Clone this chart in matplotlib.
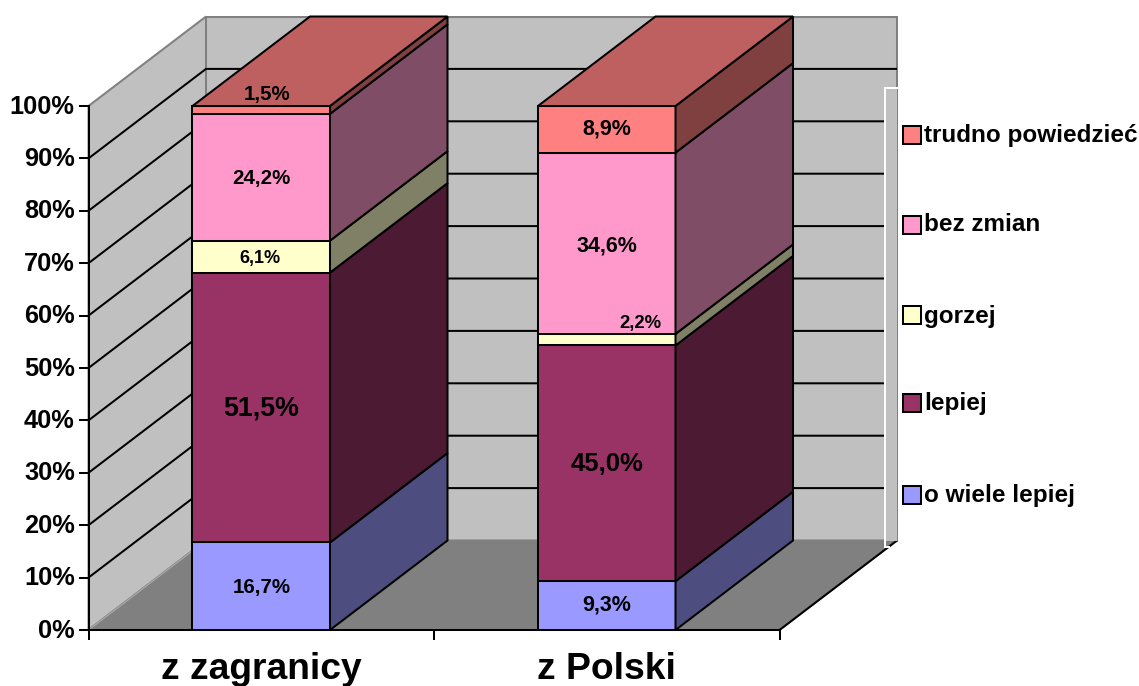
import matplotlib
matplotlib.use("Agg")
import matplotlib.pyplot as plt
from matplotlib.patches import Polygon, Rectangle
from matplotlib.transforms import ScaledTranslation

plt.rcParams['font.family'] = ['Liberation Sans', 'DejaVu Sans']

categories = ['z zagranicy', 'z Polski']
series_names = ['o wiele lepiej', 'lepiej', 'gorzej', 'bez zmian', 'trudno powiedzieć']
o_wiele_lepiej = [16.7, 9.3]
lepiej = [51.5, 45.0]
gorzej = [6.1, 2.2]
bez_zmian = [24.2, 34.6]
trudno = [1.5, 8.9]
series_values = [o_wiele_lepiej, lepiej, gorzej, bez_zmian, trudno]
y_ticks = [0, 10, 20, 30, 40, 50, 60, 70, 80, 90, 100]

# styling
front = ['#9999FF', '#993366', '#FFFFCC', '#FF99CC', '#FF8080']
side = ['#4D4D80', '#4D1A33', '#808066', '#804D66', '#804040']
top_colour = '#BF6060'
W, H = 1139, 686
X0, XU = 88.5, 345.5      # px of x=0, px per category
Y0, YU = 630.0, 5.24      # px of y=0, px per percent
DX, DY = 117.5 / XU, 89.5 / YU   # depth in data units
BW = 0.398
LW = 1.45

fig = plt.figure(figsize=(W / 100, H / 100), dpi=100)
ax = fig.add_axes([0, 0, 1, 1])
ax.set_xlim((0 - X0) / XU, (W - X0) / XU)
ax.set_ylim((Y0 - H) / YU, Y0 / YU)
ax.patch.set_alpha(0)


def poly(pts, fc, ec='black', z=3, lw=LW):
    ax.add_patch(Polygon(pts, closed=True, facecolor=fc, edgecolor=ec,
                         linewidth=lw, zorder=z, joinstyle='miter'))


# walls and floor
ymax = y_ticks[-1]
xmax = len(categories)
poly([(0, 0), (0, ymax), (DX, ymax + DY), (DX, DY)], '#C0C0C0', '#808080', 1)
poly([(DX, DY), (DX, ymax + DY), (xmax + DX, ymax + DY), (xmax + DX, DY)], '#C0C0C0', '#808080', 1)
poly([(0, 0), (xmax, 0), (xmax + DX, DY), (DX, DY)], '#808080', '#808080', 1.5)
ax.plot([0, DX], [0, DY], color='#A6A6A6', lw=1.0, zorder=1.6, solid_capstyle='butt')
ax.plot([xmax, xmax + DX], [0, DY], color='black', lw=LW, zorder=1.6, solid_capstyle='butt')

# gridlines
for t in y_ticks[1:-1]:
    ax.plot([0, DX, xmax + DX], [t, t + DY, t + DY], color='black', lw=LW, zorder=1.7,
            solid_joinstyle='miter', solid_capstyle='butt')

# legend band that hides the right end of the wall
bx0 = (884.5 - X0) / XU
by = lambda p: (Y0 - p) / YU
ax.add_patch(Rectangle((bx0, DY), xmax + DX - bx0 + 0.001, by(88) - DY, facecolor='#C0C0C0',
                       edgecolor='none', zorder=1.8))
ax.plot([xmax + DX, bx0, bx0, (888.5 - X0) / XU], [by(88), by(88), by(546.5), by(546.5)],
        color='white', lw=LW, zorder=1.9, solid_joinstyle='miter')

# stacked 3-D bars
label_sizes = [[14.8, 19.3, 13.0, 14.8, 14.8], [15.5, 18.5, 13.3, 15.5, 15.5]]
label_shift = [[(0, -1), (0, -1), (-1, -2), (0, -1), (6, 15)],
               [(0, 1), (0, -1), (34, 16), (0, -3), (0, 0)]]
for c, name in enumerate(categories):
    cx = c + 0.5
    xl, xr = cx - BW / 2, cx + BW / 2
    base = 0.0
    for s, vals in enumerate(series_values):
        v = vals[c]
        ax.bar(cx, v, BW, bottom=base, color=front[s], edgecolor='black', linewidth=LW, zorder=3)
        poly([(xr, base), (xr + DX, base + DY), (xr + DX, base + v + DY), (xr, base + v)], side[s])
        dx_px, dy_px = label_shift[c][s]
        ax.text(cx + dx_px / XU, base + v / 2 + dy_px / YU, f'{v:.1f}%'.replace('.', ','),
                ha='center', va='center', fontweight='bold',
                fontsize=label_sizes[c][s], color='black', zorder=6)
        base += v
    poly([(xl, base), (xr, base), (xr + DX, base + DY), (xl + DX, base + DY)], top_colour, z=4)

# axes
for sp in ('top', 'right'):
    ax.spines[sp].set_visible(False)
for sp in ('left', 'bottom'):
    ax.spines[sp].set_linewidth(LW)
    ax.spines[sp].set_position(('data', 0))
    ax.spines[sp].set_zorder(2.5)
ax.spines['left'].set_bounds(0, ymax)
ax.spines['bottom'].set_bounds(0, xmax)
ax.set_yticks(y_ticks)
ax.set_yticklabels([f'{t}%' for t in y_ticks], fontsize=18.3, fontweight='bold')
ax.set_xticks(range(len(categories) + 1))
ax.set_xticklabels([])
ax.set_xticks([i + 0.5 for i in range(len(categories))], minor=True)
ax.set_xticklabels(categories, minor=True, fontsize=26.8, fontweight='bold')
ax.tick_params(axis='y', direction='out', length=7.2, width=LW, pad=2)
ax.tick_params(axis='x', which='major', direction='out', length=7.2, width=LW)
ax.tick_params(axis='x', which='minor', length=0, pad=15.6)
shift = ScaledTranslation(-1 / 100, 2 / 100, fig.dpi_scale_trans)
for lab in ax.get_yticklabels():
    lab.set_transform(lab.get_transform() + shift)

# legend (manual: swatches and labels in figure pixels)
legend_y = [495, 403, 315, 224.5, 134.5]
text_y = [495.5, 403.5, 316, 224.5, 135.5]
for s, name in enumerate(series_names):
    py = legend_y[s]
    ax.add_patch(Rectangle(((903 - X0) / XU, by(py + 9)), 18 / XU, 18 / YU, facecolor=front[s],
                           edgecolor='black', linewidth=LW, zorder=5))
    ax.text((924 - X0) / XU, by(text_y[s]), name, fontsize=17.5, fontweight='bold', ha='left',
            va='center', zorder=5, color='black')

fig.savefig('out.png', dpi=100)
